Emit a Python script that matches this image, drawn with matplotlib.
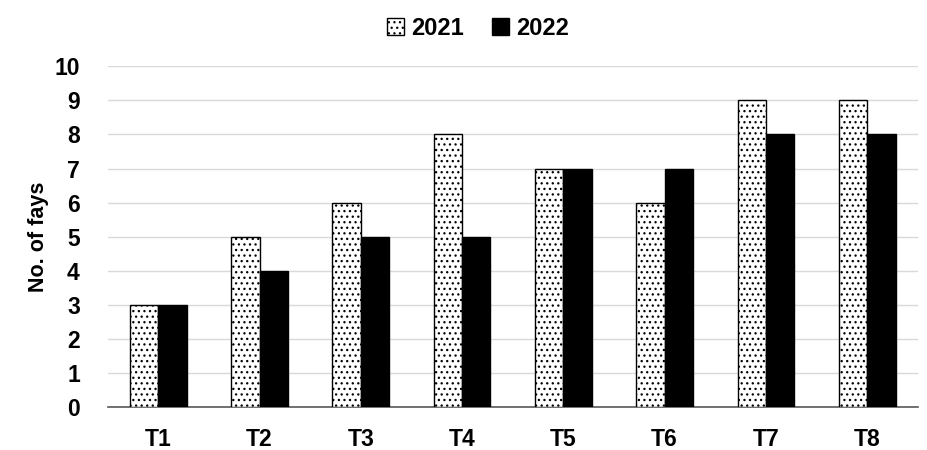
import matplotlib
matplotlib.use('Agg')
import matplotlib.pyplot as plt
import numpy as np

categories = ['T1', 'T2', 'T3', 'T4', 'T5', 'T6', 'T7', 'T8']
vals_2021 = [3, 5, 6, 8, 7, 6, 9, 9]
vals_2022 = [3, 4, 5, 5, 7, 7, 8, 8]

plt.rcParams['font.family'] = ['Liberation Sans', 'DejaVu Sans']
plt.rcParams['font.weight'] = 'bold'
plt.rcParams['hatch.linewidth'] = 0.9
plt.rcParams['hatch.color'] = '#404040'

fig = plt.figure(figsize=(9.28, 4.5), dpi=100)
ax = fig.add_axes([0.116, 0.0956, 0.873, 0.757])

x = np.arange(len(categories))
w = 0.28
ax.bar(x - w/2, vals_2021, w, color='white', edgecolor='black', hatch='...',
       linewidth=1, label='2021', zorder=3)
ax.bar(x + w/2, vals_2022, w, color='black', edgecolor='black',
       linewidth=1, label='2022', zorder=3)

ax.set_xlim(-0.5, len(categories) - 0.5)
ax.set_ylim(0, 10)
ax.set_yticks(range(0, 11))
ax.set_xticks(x)
ax.set_xticklabels(categories)
ax.tick_params(axis='both', length=0, labelsize=16.5)
ax.tick_params(axis='x', pad=15)
ax.tick_params(axis='y', pad=20)
ax.grid(axis='y', color='#d9d9d9', linewidth=1, zorder=0)
for s in ['top', 'right', 'left']:
    ax.spines[s].set_visible(False)
ax.spines['bottom'].set_color('#595959')
ax.spines['bottom'].set_linewidth(1.2)

ax.set_ylabel('No. of fays', fontsize=15.5, fontweight='bold', labelpad=4)

fig.legend(loc='upper center', bbox_to_anchor=(0.515, 1.01), ncol=2, frameon=False,
           fontsize=17, handlelength=0.7, handleheight=0.7, handletextpad=0.3,
           columnspacing=1.2)

plt.savefig('out.png', dpi=100)
